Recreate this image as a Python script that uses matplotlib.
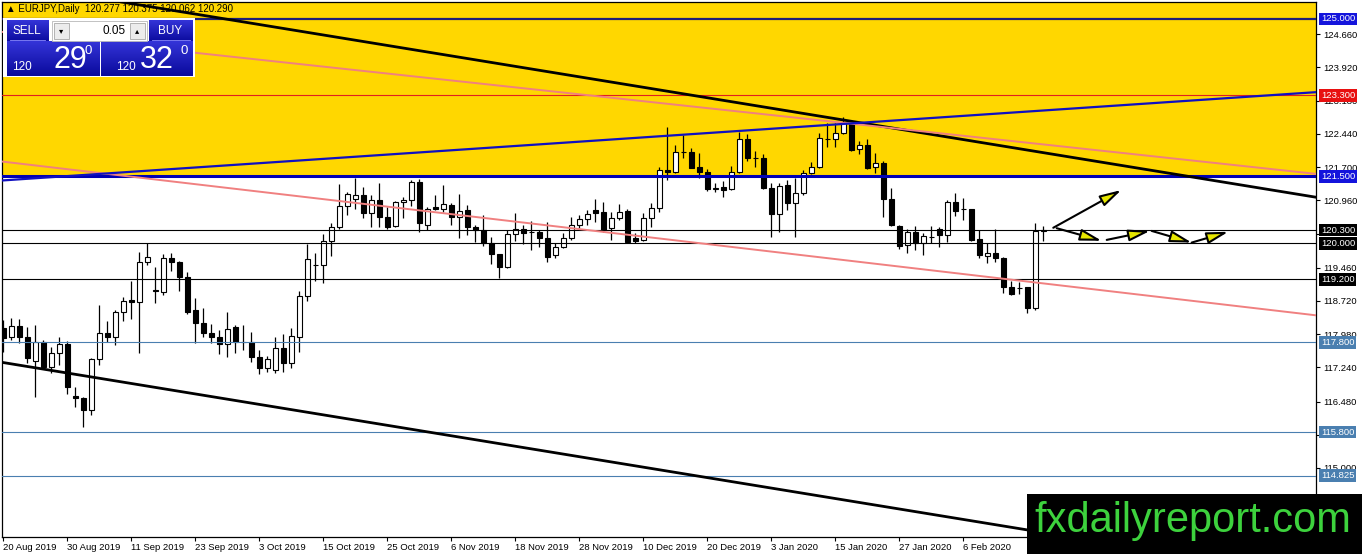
import matplotlib.pyplot as plt
from matplotlib.patches import Rectangle
from matplotlib.colors import LinearSegmentedColormap
from matplotlib import font_manager
import numpy as np

# daily candles EURJPY
opens = [118.12, 117.92, 118.16, 117.92, 117.38, 117.81, 117.25, 117.56, 117.76, 116.60,
         116.56, 116.29, 117.43, 118.01, 117.92, 118.47, 118.74, 118.70, 119.59, 118.96,
         118.92, 119.68, 119.59, 119.25, 118.52, 118.23, 118.01, 117.92, 117.76, 118.14,
         117.81, 117.81, 117.47, 117.23, 117.18, 117.67, 117.34, 117.92, 118.83, 119.52,
         119.52, 120.06, 120.37, 120.84, 120.99, 121.08, 120.68, 120.97, 120.59, 120.39,
         120.92, 120.97, 121.37, 120.41, 120.81, 120.77, 120.86, 120.59, 120.75, 120.37,
         120.30, 120.01, 119.77, 119.48, 120.21, 120.32, 120.26, 120.26, 120.12, 119.74,
         119.92, 120.12, 120.41, 120.55, 120.75, 120.70, 120.35, 120.57, 120.72, 120.12,
         120.08, 120.57, 120.79, 121.64, 121.59, 122.04, 122.04, 121.70, 121.59, 121.21,
         121.26, 121.21, 121.59, 122.33, 121.90, 121.90, 121.24, 120.66, 121.30, 120.90,
         121.12, 121.57, 121.70, 122.33, 122.33, 122.46, 122.66, 122.10, 122.19, 121.70,
         121.79, 120.99, 120.39, 119.97, 120.26, 120.01, 120.14, 120.32, 120.19, 120.92,
         120.77, 120.77, 120.10, 119.72, 119.79, 119.68, 119.03, 119.01, 119.03, 118.56,
         120.28]
highs = [118.30, 118.34, 118.32, 118.14, 118.18, 117.85, 117.70, 117.92, 117.83, 116.80,
         116.58, 117.45, 118.63, 118.27, 118.52, 118.81, 119.16, 119.81, 120.01, 119.48,
         119.77, 119.79, 119.61, 119.37, 118.79, 118.56, 118.21, 118.07, 118.47, 118.18,
         118.18, 118.03, 117.63, 117.49, 117.92, 117.98, 118.12, 118.94, 119.99, 119.79,
         120.21, 120.46, 121.32, 121.15, 121.46, 121.26, 121.08, 121.35, 120.81, 120.95,
         121.03, 121.41, 121.44, 120.81, 121.08, 121.30, 120.90, 121.10, 120.86, 120.41,
         120.63, 120.14, 119.77, 120.30, 120.68, 120.41, 120.50, 120.30, 120.48, 120.01,
         120.23, 120.59, 120.63, 120.75, 120.99, 120.92, 120.70, 120.88, 120.77, 120.23,
         120.68, 120.90, 121.70, 122.59, 122.19, 122.42, 122.13, 122.02, 121.66, 121.35,
         121.39, 121.72, 122.48, 122.44, 122.06, 121.99, 121.35, 121.35, 121.41, 121.46,
         121.64, 121.82, 122.46, 122.68, 122.68, 122.82, 122.68, 122.28, 122.33, 122.02,
         121.84, 121.24, 120.41, 120.32, 120.39, 120.23, 120.39, 120.37, 120.97, 121.12,
         121.01, 120.77, 120.30, 120.01, 120.32, 119.70, 119.16, 119.14, 119.03, 120.46,
         120.38]
lows = [117.58, 117.85, 117.78, 117.34, 116.58, 117.20, 117.11, 117.29, 116.65, 116.36,
        115.91, 116.18, 117.29, 117.81, 117.74, 118.27, 118.32, 117.56, 119.52, 118.67,
        118.85, 119.39, 118.94, 118.43, 117.78, 117.92, 117.78, 117.54, 117.47, 117.56,
        117.63, 117.36, 117.09, 117.14, 117.11, 117.14, 117.23, 117.58, 118.72, 119.16,
        119.12, 119.72, 120.32, 120.63, 120.77, 120.57, 120.37, 120.37, 120.32, 120.37,
        120.57, 120.84, 120.26, 120.30, 120.75, 120.70, 120.41, 120.12, 120.19, 120.03,
        119.94, 119.54, 119.23, 119.45, 120.06, 119.99, 119.86, 119.92, 119.59, 119.68,
        119.90, 120.08, 120.35, 120.41, 120.48, 120.26, 120.08, 120.52, 120.01, 120.01,
        120.06, 120.37, 120.70, 121.41, 121.57, 121.90, 121.68, 121.46, 121.17, 121.15,
        121.03, 121.19, 121.57, 121.84, 121.70, 121.21, 120.14, 120.26, 120.75, 120.14,
        121.08, 121.55, 121.68, 122.15, 122.15, 122.44, 122.06, 121.99, 121.66, 121.57,
        120.59, 120.39, 119.88, 119.79, 119.86, 119.74, 120.01, 119.92, 120.03, 120.61,
        120.52, 120.06, 119.68, 119.57, 119.59, 118.90, 118.85, 118.87, 118.45, 118.52,
        120.06]
closes = [117.90, 118.16, 117.92, 117.45, 117.81, 117.25, 117.56, 117.76, 116.80, 116.56,
          116.29, 117.43, 118.01, 117.92, 118.47, 118.72, 118.70, 119.59, 119.70, 118.95,
          119.68, 119.59, 119.25, 118.47, 118.23, 118.01, 117.92, 117.76, 118.10, 117.81,
          117.81, 117.47, 117.23, 117.43, 117.67, 117.34, 117.94, 118.83, 119.65, 119.52,
          120.06, 120.37, 120.84, 121.10, 121.08, 120.68, 120.97, 120.59, 120.37, 120.92,
          120.97, 121.37, 120.46, 120.77, 120.77, 120.88, 120.59, 120.72, 120.37, 120.30,
          120.01, 119.77, 119.48, 120.21, 120.32, 120.23, 120.26, 120.12, 119.70, 119.92,
          120.12, 120.41, 120.55, 120.66, 120.68, 120.30, 120.57, 120.70, 120.03, 120.06,
          120.57, 120.79, 121.64, 121.59, 122.04, 122.04, 121.68, 121.59, 121.21, 121.24,
          121.19, 121.59, 122.33, 121.90, 121.90, 121.24, 120.66, 121.28, 120.90, 121.12,
          121.57, 121.70, 122.35, 122.33, 122.46, 122.68, 122.08, 122.19, 121.68, 121.79,
          120.99, 120.41, 119.94, 120.26, 120.01, 120.17, 120.14, 120.19, 120.92, 120.72,
          120.77, 120.08, 119.74, 119.79, 119.68, 119.03, 118.87, 119.01, 118.56, 120.28,
          120.29]

date_labels = ['20 Aug 2019', '30 Aug 2019', '11 Sep 2019', '23 Sep 2019', '3 Oct 2019',
               '15 Oct 2019', '25 Oct 2019', '6 Nov 2019', '18 Nov 2019', '28 Nov 2019',
               '10 Dec 2019', '20 Dec 2019', '3 Jan 2020', '15 Jan 2020', '27 Jan 2020',
               '6 Feb 2020']
y_ticks = [124.660, 123.920, 123.180, 122.440, 121.700, 120.960, 120.220, 119.460,
           118.720, 117.980, 117.240, 116.480, 115.740, 115.000, 114.260]
# these tick labels sit under a level label / the watermark in the original
hidden_ticks = [120.220, 115.740, 114.260]

# horizontal levels and their label colours
levels = [125.000, 123.300, 121.500, 120.300, 120.000, 119.200, 117.800, 115.800, 114.825]
level_colors = ['#1e1e78', '#e02020', '#0000b4', 'black', 'black', 'black',
                '#4a7fb0', '#4a7fb0', '#4a7fb0']
level_widths = [1.6, 0.8, 2.2, 0.8, 0.8, 0.8, 0.8, 0.8, 0.8]
level_label_bg = ['#1414dc', '#e81010', '#1414dc', 'black', 'black', 'black',
                  '#4a7fb0', '#4a7fb0', '#4a7fb0']

# trend lines: two points (bar index, price)
channel_top = [(13.34, 125.42), (164.09, 121.03)]
channel_bottom = [(-0.41, 117.36), (164.09, 112.57)]
pink_top = [(17.09, 124.38), (164.09, 121.55)]
pink_bottom = [(-0.41, 121.83), (164.09, 118.40)]
blue_rising = [(-0.41, 121.40), (164.09, 123.37)]

# projected path arrows (start, end)
arrows = [((131.25, 120.35), (139.75, 121.19)),
          ((131.68, 120.34), (137.30, 120.06)),
          ((137.93, 120.08), (143.34, 120.28)),
          ((143.55, 120.28), (148.55, 120.02)),
          ((148.55, 120.02), (153.13, 120.26))]

names = {f.name for f in font_manager.fontManager.ttflist}
narrow = 'Liberation Sans Narrow' if 'Liberation Sans Narrow' in names else 'Liberation Sans'
plt.rcParams['font.family'] = ['Liberation Sans', 'DejaVu Sans']

fig = plt.figure(figsize=(13.62, 5.54), dpi=100)
ax = fig.add_axes([2 / 1362, 17 / 554, 1314 / 1362, 535 / 554])

ax.axhspan(121.5, 126.5, color='#ffd700', lw=0, zorder=0)

x = np.arange(len(opens))
o = np.array(opens)
c = np.array(closes)
ax.vlines(x, lows, highs, color='black', lw=0.9, zorder=2)
bottoms = np.minimum(o, c)
heights = np.maximum(np.abs(c - o), 0.004)
colors = ['white' if cc > oo else 'black' for oo, cc in zip(o, c)]
ax.bar(x, heights, bottom=bottoms, width=0.66, color=colors, edgecolor='black',
       lw=0.8, zorder=3)

for lv, col, lw in zip(levels, level_colors, level_widths):
    ax.axhline(lv, color=col, lw=lw, zorder=4)

ax.axline(*channel_top, color='black', lw=2.0, zorder=4)
ax.axline(*channel_bottom, color='black', lw=2.0, zorder=4)
ax.axline(*pink_top, color='#f08080', lw=1.4, zorder=4)
ax.axline(*pink_bottom, color='#f08080', lw=1.4, zorder=4)
ax.axline(*blue_rising, color='#1010c0', lw=1.6, zorder=4)

for start, end in arrows:
    ax.annotate('', xy=end, xytext=start,
                arrowprops=dict(arrowstyle='-|>,head_length=1.3,head_width=0.35',
                                fc='#e6e600', ec='black', lw=1.5,
                                shrinkA=0, shrinkB=0, mutation_scale=10),
                zorder=5)

ax.set_xlim(-0.1625, 164.09)
ax.set_ylim(113.463, 125.378)

ax.yaxis.tick_right()
ax.set_yticks(y_ticks)
ax.set_yticklabels(['' if v in hidden_ticks else f'{v:.3f}' for v in y_ticks])
ax.tick_params(axis='y', length=3, width=0.8, pad=2, labelsize=6.8)
ax.set_xticks(range(0, 8 * len(date_labels), 8))
ax.set_xticklabels(date_labels, ha='left')
ax.tick_params(axis='x', length=3, width=0.8, pad=1.5, labelsize=6.8)
for s in ax.spines.values():
    s.set_linewidth(0.9)

for lv, bg in zip(levels, level_label_bg):
    ax.annotate(f'{lv:.3f}', xy=(1, lv), xycoords=('axes fraction', 'data'),
                xytext=(3.5, 0), textcoords='offset points', ha='left', va='center',
                fontsize=6.8, color='white', zorder=10, annotation_clip=False,
                bbox=dict(boxstyle='square,pad=0.2', fc=bg, ec='none'))

# overlay in pixel coords for the trade panel and watermark
ov = fig.add_axes([0, 0, 1, 1], zorder=5)
ov.patch.set_alpha(0)

ov.text(6, 9, '\u25b2 EURJPY,Daily  120.277 120.375 120.062 120.290', fontsize=7,
        va='center', ha='left', color='black')

ov.add_patch(Rectangle((3, 18), 192, 59, fc='white', ec='none', zorder=1))
grad = np.linspace(0, 1, 50).reshape(-1, 1)
blues = LinearSegmentedColormap.from_list('b', ['#3434d8', '#0a0a9c'])
for (x0, y0, w, h) in [(6.7, 20.7, 41.6, 21.5), (6.7, 41.7, 92.3, 34.3),
                       (149, 20.7, 43.7, 21.5), (100.7, 41.7, 92, 34.3)]:
    ov.imshow(grad, cmap=blues, aspect='auto', extent=(x0, x0 + w, y0 + h, y0),
              interpolation='bilinear', zorder=2)
ov.add_patch(Rectangle((51.7, 20.5), 95, 20.5, fc='white', ec='#b8b8b8', lw=0.6, zorder=2))
ov.add_patch(Rectangle((53.5, 22.5), 15.5, 16.5, fc='#ececec', ec='#a8a8a8', lw=0.6, zorder=2))
ov.add_patch(Rectangle((129.5, 22.5), 15.5, 16.5, fc='#ececec', ec='#a8a8a8', lw=0.6, zorder=2))
ov.text(61.2, 31, '\u25be', fontsize=6, ha='center', va='center', color='black',
        family='DejaVu Sans', zorder=4)
ov.text(137.2, 31, '\u25b4', fontsize=6, ha='center', va='center', color='black',
        family='DejaVu Sans', zorder=4)
ov.text(126, 31, '0.05', fontsize=8.5, ha='right', va='center', color='black', zorder=4)
ov.text(27, 30.5, 'SELL', fontsize=8.5, ha='center', va='center', color='white', zorder=4)
ov.text(170.5, 30.5, 'BUY', fontsize=8.5, ha='center', va='center', color='white', zorder=4)
ov.plot([10, 45], [40.3, 40.3], color='#8a8aff', lw=0.6, zorder=4)
ov.plot([152, 190], [40.3, 40.3], color='#8a8aff', lw=0.6, zorder=4)
ov.text(22, 67, '120', fontsize=8.5, ha='center', va='center', color='white', zorder=4)
ov.text(70, 59.5, '29', fontsize=22, ha='center', va='center', color='white',
        family=narrow, zorder=4)
ov.text(88.5, 51, '0', fontsize=9.5, ha='center', va='center', color='white', zorder=4)
ov.text(126, 67, '120', fontsize=8.5, ha='center', va='center', color='white', zorder=4)
ov.text(157, 59.5, '32', fontsize=22, ha='center', va='center', color='white',
        family=narrow, zorder=4)
ov.text(184.5, 51, '0', fontsize=9.5, ha='center', va='center', color='white', zorder=4)

ov.add_patch(Rectangle((1027, 494), 335, 60, fc='black', ec='none', zorder=2))
ov.text(1193, 521, 'fxdailyreport.com', fontsize=30, ha='center', va='center',
        color='#3dd23d', zorder=4)

ov.set_xlim(0, 1362)
ov.set_ylim(554, 0)
ov.axis('off')

fig.savefig('out.png', dpi=100)
